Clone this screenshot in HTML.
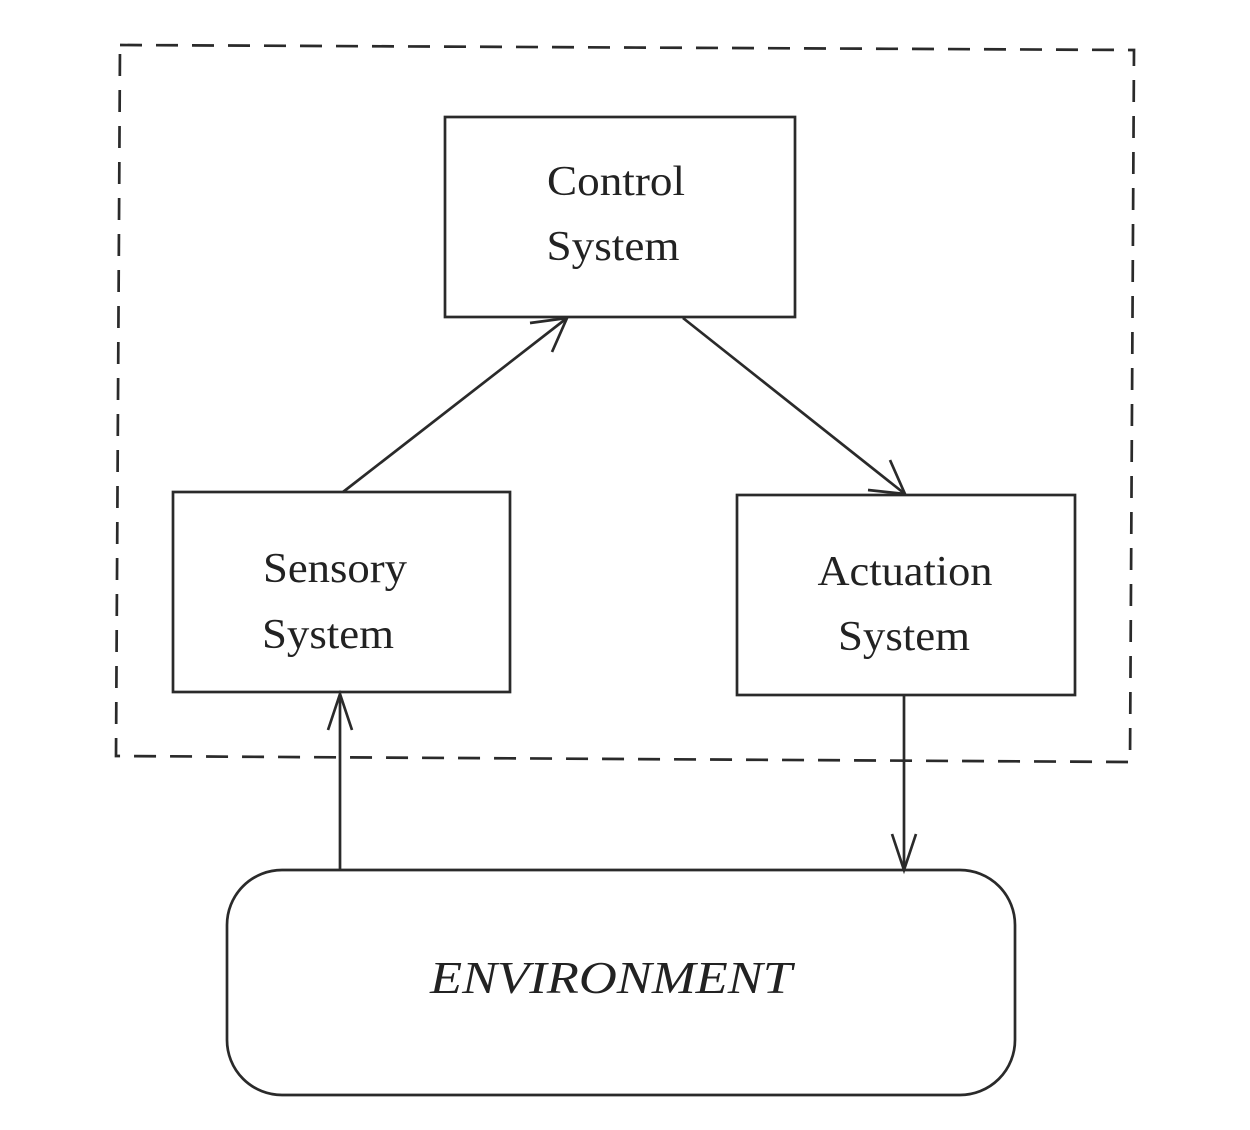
<!DOCTYPE html>
<html><head><meta charset="utf-8"><style>
html,body{margin:0;padding:0;background:#fff;}
svg{display:block;}
text{font-family:"Liberation Serif",serif;fill:#222;}
</style></head><body>
<svg width="1250" height="1130" viewBox="0 0 1250 1130" xmlns="http://www.w3.org/2000/svg">
<g stroke="#2a2a2a" stroke-width="2.7" fill="none">
<path d="M120 45 L1134 50 L1130 762 L116 756 Z" stroke-dasharray="22 14"/>
<rect x="445" y="117" width="350" height="200" fill="#fff"/>
<rect x="173" y="492" width="337" height="200" fill="#fff"/>
<rect x="737" y="495" width="338" height="200" fill="#fff"/>
<rect x="227" y="870" width="788" height="225" rx="55" ry="55" fill="#fff"/>
<line x1="343" y1="492" x2="567" y2="318"/>
<path d="M530 323 L567 318 L552 352"/>
<line x1="683" y1="318" x2="905" y2="494"/>
<path d="M868 490 L905 494 L890 460"/>
<line x1="340" y1="870" x2="340" y2="694"/>
<path d="M328 730 L340 694 L352 730"/>
<line x1="904" y1="695" x2="904" y2="870"/>
<path d="M892 834 L904 870 L916 834"/>
</g>
<g font-size="42" text-anchor="middle" lengthAdjust="spacingAndGlyphs">
<text x="616" y="195" textLength="138" lengthAdjust="spacingAndGlyphs">Control</text>
<text x="613" y="260" textLength="133" lengthAdjust="spacingAndGlyphs">System</text>
<text x="335" y="582" textLength="144" lengthAdjust="spacingAndGlyphs">Sensory</text>
<text x="328" y="648" textLength="132" lengthAdjust="spacingAndGlyphs">System</text>
<text x="905" y="585" textLength="175" lengthAdjust="spacingAndGlyphs">Actuation</text>
<text x="904" y="650" textLength="132" lengthAdjust="spacingAndGlyphs">System</text>
<text x="611" y="993" font-style="italic" font-size="46" textLength="362" lengthAdjust="spacingAndGlyphs">ENVIRONMENT</text>
</g>
</svg>
</body></html>
